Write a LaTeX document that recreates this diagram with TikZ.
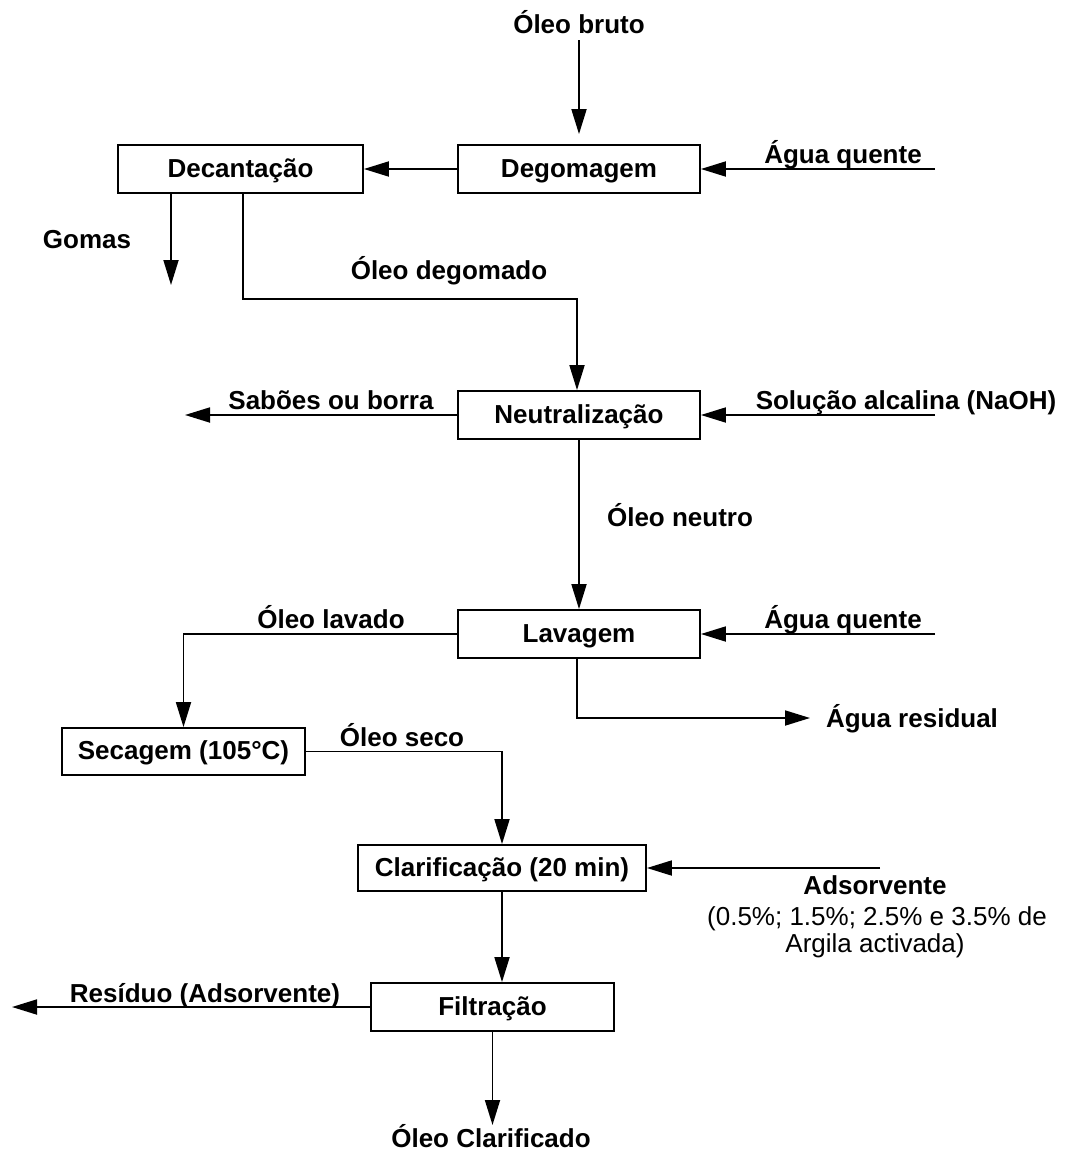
\documentclass[tikz,border=0pt]{standalone}
\usepackage{fontspec}
\setmainfont{Liberation Sans}
\usetikzlibrary{arrows.meta,calc}
\tikzset{
  box/.style={draw, line width=1.8pt, minimum width=242pt, minimum height=48pt, inner sep=0pt,
              text height=19pt, text depth=3pt,
              font=\fontsize{26pt}{30pt}\selectfont\bfseries},
  lbl/.style={anchor=base, inner sep=0pt, font=\fontsize{26pt}{30pt}\selectfont\bfseries},
  lblr/.style={anchor=base, inner sep=0pt, font=\fontsize{26pt}{30pt}\selectfont},
  arr/.style={line width=1.8pt, -{Triangle[length=25pt,width=15pt]}},
  ln/.style={line width=1.8pt}
}
\begin{document}
\begin{tikzpicture}[x=1pt,y=-1pt]
\useasboundingbox[fill=white] (0,0) rectangle (1066,1153);
% boxes
\node[box, minimum width=245pt] (dec) at (240.5,169) {Decantação};
\node[box] (deg) at (579,169) {Degomagem};
\node[box] (neu) at (579,415) {Neutralização};
\node[box] (lav) at (579,634) {Lavagem};
\node[box, minimum width=243pt, minimum height=47pt] (sec) at (183.5,751.5) {Secagem (105°C)};
\node[box, minimum width=288pt, minimum height=46pt] (cla) at (502,868) {Clarificação (20 min)};
\node[box, minimum width=243pt] (fil) at (492.5,1007) {Filtração};
% labels
\node[lbl] (ob) at (579,34) {Óleo bruto};
\node[lbl] (aq1) at (843,163) {Água quente};
\node[lbl] (gom) at (87,248) {Gomas};
\node[lbl] (odeg) at (449,279) {Óleo degomado};
\node[lbl] (sab) at (331,409) {Sabões ou borra};
\node[lbl] (naoh) at (906,409) {Solução alcalina (NaOH)};
\node[lbl] (oneu) at (680,526) {Óleo neutro};
\node[lbl] (olav) at (331,628) {Óleo lavado};
\node[lbl] (aq2) at (843,628) {Água quente};
\node[lbl] (ares) at (912,727) {Água residual};
\node[lbl] (oseco) at (402,746) {Óleo seco};
\node[lbl] (ads) at (875,894) {Adsorvente};
\node[lblr] (ads2) at (877,925) {(0.5\%; 1.5\%; 2.5\% e 3.5\% de};
\node[lblr] (ads3) at (875,952) {Argila activada)};
\node[lbl] (resid) at (205,1002) {Resíduo (Adsorvente)};
\node[lbl] (ocl) at (491,1147) {Óleo Clarificado};
% free ends
\coordinate (aq1e) at (935,169);
\coordinate (gome) at (171,285);
\coordinate (sabe) at (185,415);
\coordinate (naohe) at (935,415);
\coordinate (aq2e) at (935,634);
\coordinate (arese) at (810,718);
\coordinate (adse) at (880,868);
\coordinate (rese) at (12,1007);
\coordinate (ocle) at (492.5,1125);
% connectors
\draw[arr, shorten <=6pt, shorten >=10pt] (ob.south) -- (deg.north);
\draw[arr] (aq1e) -- (deg.east);
\draw[arr] (deg.west) -- (dec.east);
\draw[arr] (gome |- dec.south) -- (gome);
\draw[arr] ([xshift=2.5pt]dec.south) -- ++(0,105) -| ([xshift=-2pt]neu.north);
\draw[arr] (neu.west) -- (sabe);
\draw[arr] (naohe) -- (neu.east);
\draw[arr] (neu.south) -- (lav.north);
\draw[arr] (aq2e) -- (lav.east);
\draw[arr] (lav.west) -| (sec.north);
\draw[arr] ([xshift=-2pt]lav.south) |- (arese);
\draw[arr] (sec.east) -| (cla.north);
\draw[arr] (adse) -- (cla.east);
\draw[arr] (cla.south) -- (cla.south |- fil.north);
\draw[arr] (fil.west) -- (rese);
\draw[arr] (fil.south) -- (ocle);
\end{tikzpicture}
\end{document}
